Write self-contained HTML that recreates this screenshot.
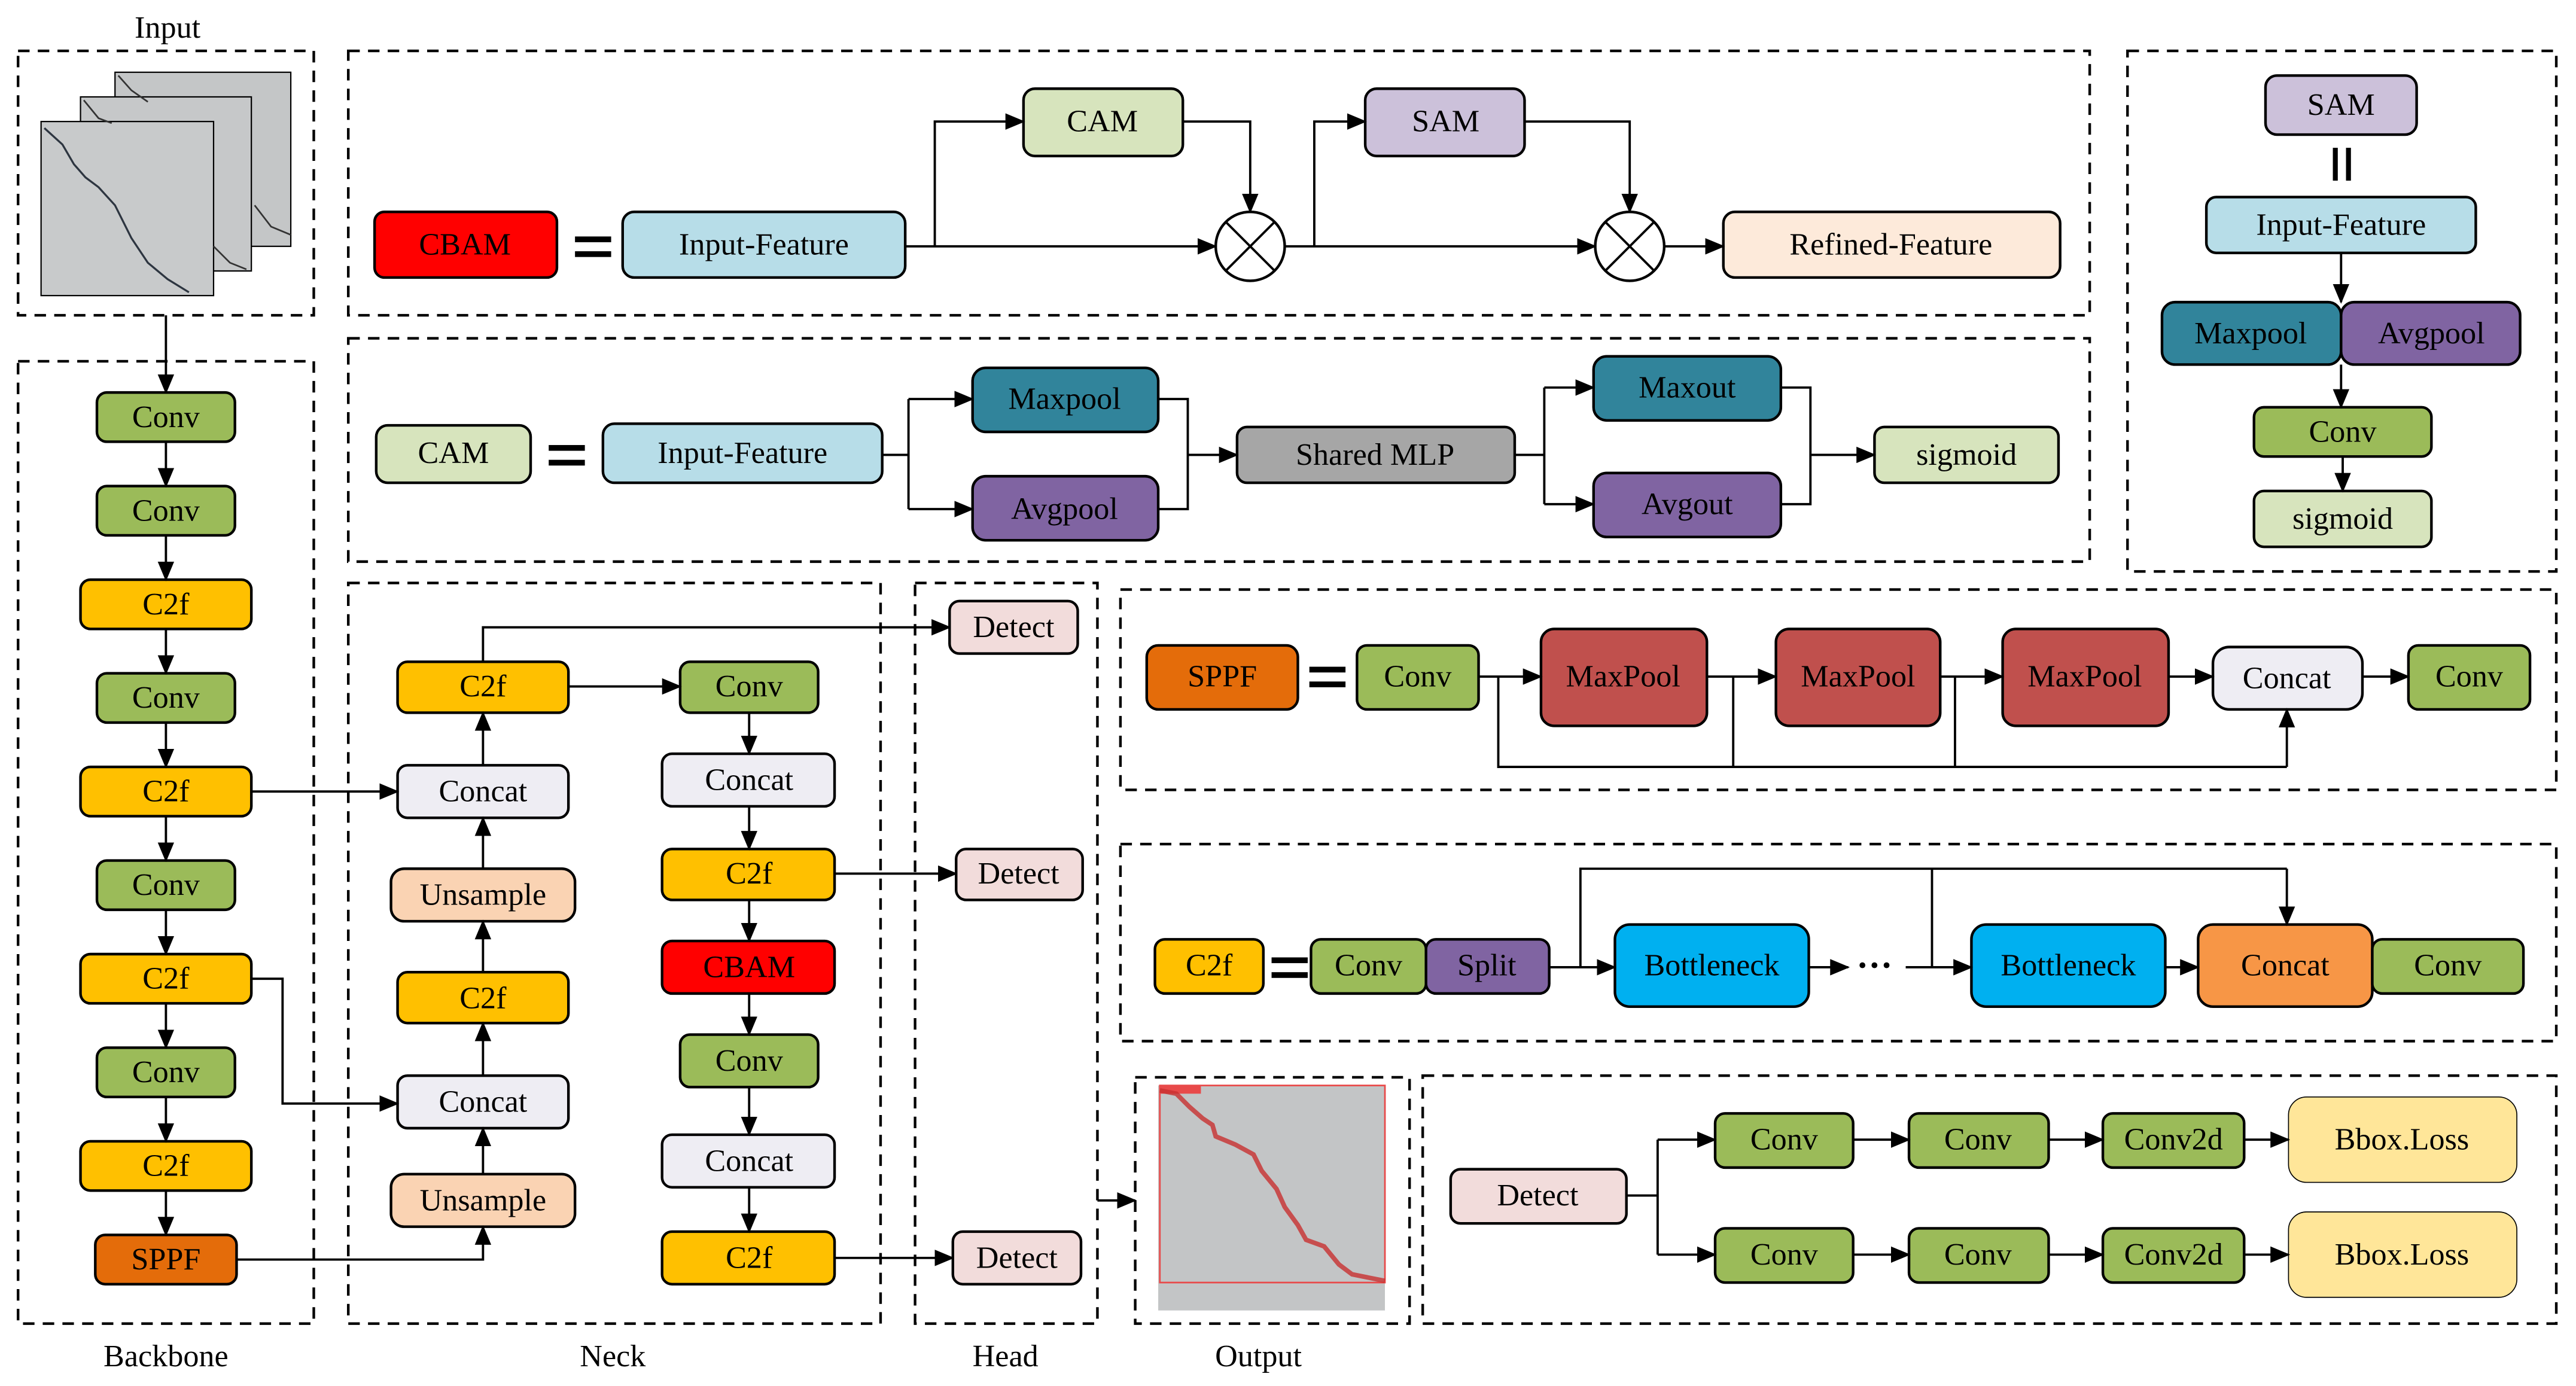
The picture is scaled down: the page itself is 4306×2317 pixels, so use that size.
<!DOCTYPE html>
<html><head><meta charset="utf-8"><style>
html,body{margin:0;padding:0;background:#fff;width:4306px;height:2317px;overflow:hidden}
svg{display:block}
text{font-family:"Liberation Serif",serif;font-size:19px;fill:#000;text-anchor:middle;dominant-baseline:central}
.n{stroke:#000;stroke-width:1.6}
.d{fill:none;stroke:#000;stroke-width:1.6;stroke-dasharray:7,5}
.l{fill:none;stroke:#000;stroke-width:1.4}
</style></head><body>
<svg width="4306" height="2317" viewBox="0 0 1568 844" preserveAspectRatio="none" xmlns="http://www.w3.org/2000/svg">
<defs>
<marker id="a" markerUnits="userSpaceOnUse" markerWidth="12" markerHeight="10" refX="11" refY="5" orient="auto"><path d="M0,0 L12,5 L0,10 z" fill="#000"/></marker>
</defs>
<rect width="1568" height="844" fill="#fff"/>

<!-- dashed containers -->
<rect class="d" x="11" y="31" width="180" height="161"/>
<rect class="d" x="11" y="220" width="180" height="586"/>
<rect class="d" x="212" y="355" width="324" height="451"/>
<rect class="d" x="557" y="355" width="111" height="451"/>
<rect class="d" x="691" y="656" width="167" height="150"/>
<rect class="d" x="212" y="31" width="1060" height="161"/>
<rect class="d" x="212" y="206" width="1060" height="136"/>
<rect class="d" x="1295" y="31" width="261" height="317"/>
<rect class="d" x="682" y="359" width="874" height="122"/>
<rect class="d" x="682" y="514" width="874" height="120"/>
<rect class="d" x="866" y="655" width="690" height="151"/>

<text x="102" y="17">Input</text>
<text x="101" y="826">Backbone</text>
<text x="373" y="826">Neck</text>
<text x="612" y="826">Head</text>
<text x="766" y="826">Output</text>

<!-- input images -->
<g stroke="#000" stroke-width="0.8">
<rect x="70" y="44" width="107" height="106" fill="#c4c6c7"/>
<rect x="49" y="59" width="104" height="106" fill="#c6c8c9"/>
<rect x="25" y="74" width="105" height="106" fill="#c8cacb"/>
</g>
<polyline points="72,46 80,55 90,62" fill="none" stroke="#333" stroke-width="1"/>
<polyline points="155,125 165,138 177,143" fill="none" stroke="#333" stroke-width="1"/>
<polyline points="51,61 60,72 68,75" fill="none" stroke="#333" stroke-width="1"/>
<polyline points="130,150 140,160 150,164" fill="none" stroke="#333" stroke-width="1"/>
<polyline points="27,78 38,88 45,100 52,108 60,114 70,125 80,145 90,160 102,170 115,178" fill="none" stroke="#2d3540" stroke-width="1.2"/>
<line class="l" x1="101" y1="192" x2="101" y2="239" marker-end="url(#a)"/>

<!-- backbone -->
<g class="n">
<rect x="59" y="239" width="84" height="30" rx="6" fill="#9BBB59"/>
<rect x="59" y="296" width="84" height="30" rx="6" fill="#9BBB59"/>
<rect x="49" y="353" width="104" height="30" rx="6" fill="#FFC000"/>
<rect x="59" y="410" width="84" height="30" rx="6" fill="#9BBB59"/>
<rect x="49" y="467" width="104" height="30" rx="6" fill="#FFC000"/>
<rect x="59" y="524" width="84" height="30" rx="6" fill="#9BBB59"/>
<rect x="49" y="581" width="104" height="30" rx="6" fill="#FFC000"/>
<rect x="59" y="638" width="84" height="30" rx="6" fill="#9BBB59"/>
<rect x="49" y="695" width="104" height="30" rx="6" fill="#FFC000"/>
<rect x="58" y="752" width="86" height="30" rx="6" fill="#E46C0A"/>
</g>
<text x="101" y="254">Conv</text><text x="101" y="311">Conv</text><text x="101" y="368">C2f</text>
<text x="101" y="425">Conv</text><text x="101" y="482">C2f</text><text x="101" y="539">Conv</text>
<text x="101" y="596">C2f</text><text x="101" y="653">Conv</text><text x="101" y="710">C2f</text>
<text x="101" y="767">SPPF</text>
<g class="l" marker-end="url(#a)">
<line x1="101" y1="269" x2="101" y2="296"/><line x1="101" y1="326" x2="101" y2="353"/>
<line x1="101" y1="383" x2="101" y2="410"/><line x1="101" y1="440" x2="101" y2="467"/>
<line x1="101" y1="497" x2="101" y2="524"/><line x1="101" y1="554" x2="101" y2="581"/>
<line x1="101" y1="611" x2="101" y2="638"/><line x1="101" y1="668" x2="101" y2="695"/>
<line x1="101" y1="725" x2="101" y2="752"/>
</g>

<!-- neck -->
<g class="n">
<rect x="242" y="403" width="104" height="31" rx="6" fill="#FFC000"/>
<rect x="242" y="466" width="104" height="32" rx="6" fill="#EEEDF3"/>
<rect x="238" y="529" width="112" height="32" rx="8" fill="#FAD3B3"/>
<rect x="242" y="592" width="104" height="31" rx="6" fill="#FFC000"/>
<rect x="242" y="655" width="104" height="32" rx="6" fill="#EEEDF3"/>
<rect x="238" y="715" width="112" height="32" rx="8" fill="#FAD3B3"/>
<rect x="414" y="403" width="84" height="31" rx="6" fill="#9BBB59"/>
<rect x="403" y="459" width="105" height="32" rx="6" fill="#EEEDF3"/>
<rect x="403" y="517" width="105" height="31" rx="6" fill="#FFC000"/>
<rect x="403" y="573" width="105" height="32" rx="6" fill="#FF0000"/>
<rect x="414" y="630" width="84" height="32" rx="6" fill="#9BBB59"/>
<rect x="403" y="691" width="105" height="32" rx="6" fill="#EEEDF3"/>
<rect x="403" y="750" width="105" height="32" rx="6" fill="#FFC000"/>
</g>
<text x="294" y="418">C2f</text><text x="294" y="482">Concat</text><text x="294" y="545">Unsample</text>
<text x="294" y="608">C2f</text><text x="294" y="671">Concat</text><text x="294" y="731">Unsample</text>
<text x="456" y="418">Conv</text><text x="456" y="475">Concat</text><text x="456" y="532">C2f</text>
<text x="456" y="589">CBAM</text><text x="456" y="646">Conv</text><text x="456" y="707">Concat</text>
<text x="456" y="766">C2f</text>
<g class="l" marker-end="url(#a)">
<line x1="294" y1="715" x2="294" y2="687"/><line x1="294" y1="655" x2="294" y2="623"/>
<line x1="294" y1="592" x2="294" y2="561"/><line x1="294" y1="529" x2="294" y2="498"/>
<line x1="294" y1="466" x2="294" y2="434"/>
<line x1="153" y1="482" x2="242" y2="482"/>
<polyline points="153,596 172,596 172,672 242,672"/>
<polyline points="144,767 294,767 294,747"/>
<line x1="346" y1="418" x2="414" y2="418"/>
<polyline points="294,403 294,382 578,382"/>
<line x1="456" y1="434" x2="456" y2="459"/><line x1="456" y1="491" x2="456" y2="517"/>
<line x1="456" y1="548" x2="456" y2="573"/><line x1="456" y1="605" x2="456" y2="630"/>
<line x1="456" y1="662" x2="456" y2="691"/><line x1="456" y1="723" x2="456" y2="750"/>
<line x1="508" y1="532" x2="582" y2="532"/>
<line x1="508" y1="766" x2="580" y2="766"/>
<line x1="668" y1="731" x2="691" y2="731"/>
</g>

<!-- head -->
<g class="n" fill="#F2DCDB">
<rect x="578" y="366" width="78" height="32" rx="6"/>
<rect x="582" y="517" width="77" height="31" rx="6"/>
<rect x="580" y="750" width="78" height="32" rx="6"/>
</g>
<text x="617" y="382">Detect</text><text x="620" y="532">Detect</text><text x="619" y="766">Detect</text>

<!-- output -->
<rect x="705" y="661" width="138" height="137" fill="#c3c5c6"/>
<rect x="706" y="661" width="137" height="120" fill="none" stroke="#e84a4a" stroke-width="1"/>
<rect x="706" y="661" width="25" height="5" fill="#e84a4a"/>
<polyline points="706,664 716,666 724,674 732,681 738,685 740,692 752,697 763,703 768,713 777,724 782,735 790,746 795,755 806,759 815,770 823,776 843,780" fill="none" stroke="#c83030" stroke-width="2.8" stroke-opacity="0.8"/>

<!-- CBAM -->
<g class="n">
<rect x="228" y="129" width="111" height="40" rx="6" fill="#FF0000"/>
<rect x="379" y="129" width="172" height="40" rx="7" fill="#B7DDE8"/>
<rect x="623" y="54" width="97" height="41" rx="7" fill="#D7E4BD"/>
<rect x="831" y="54" width="97" height="41" rx="7" fill="#CCC1DA"/>
<rect x="1049" y="129" width="205" height="40" rx="7" fill="#FDEADA"/>
<circle cx="761" cy="150" r="21" fill="#fff"/>
<circle cx="992" cy="150" r="21" fill="#fff"/>
</g>
<g stroke="#000" stroke-width="1.4">
<line x1="746" y1="135" x2="776" y2="165"/><line x1="776" y1="135" x2="746" y2="165"/>
<line x1="977" y1="135" x2="1007" y2="165"/><line x1="1007" y1="135" x2="977" y2="165"/>
</g>
<g fill="#000"><rect x="350" y="144" width="22" height="3.5"/><rect x="350" y="153" width="22" height="3.5"/></g>
<text x="283" y="149">CBAM</text><text x="465" y="149">Input-Feature</text>
<text x="671" y="74">CAM</text><text x="880" y="74">SAM</text><text x="1151" y="149">Refined-Feature</text>
<g class="l" marker-end="url(#a)">
<line x1="551" y1="150" x2="740" y2="150"/>
<polyline points="569,150 569,74 623,74"/>
<polyline points="720,74 761,74 761,129"/>
<line x1="782" y1="150" x2="971" y2="150"/>
<polyline points="800,150 800,74 831,74"/>
<polyline points="928,74 992,74 992,129"/>
<line x1="1013" y1="150" x2="1049" y2="150"/>
</g>

<!-- CAM -->
<g class="n">
<rect x="229" y="259" width="94" height="35" rx="7" fill="#D7E4BD"/>
<rect x="367" y="258" width="170" height="36" rx="7" fill="#B7DDE8"/>
<rect x="592" y="224" width="113" height="39" rx="8" fill="#31849B"/>
<rect x="592" y="290" width="113" height="39" rx="8" fill="#8064A2"/>
<rect x="753" y="260" width="169" height="34" rx="6" fill="#A6A6A6"/>
<rect x="970" y="217" width="114" height="39" rx="8" fill="#31849B"/>
<rect x="970" y="288" width="114" height="39" rx="8" fill="#8064A2"/>
<rect x="1141" y="260" width="112" height="34" rx="6" fill="#D7E4BD"/>
</g>
<g fill="#000"><rect x="334" y="271" width="22" height="3.5"/><rect x="334" y="280" width="22" height="3.5"/></g>
<text x="276" y="276">CAM</text><text x="452" y="276">Input-Feature</text>
<text x="648" y="243">Maxpool</text><text x="648" y="310">Avgpool</text>
<text x="837" y="277">Shared MLP</text><text x="1027" y="236">Maxout</text>
<text x="1027" y="307">Avgout</text><text x="1197" y="277">sigmoid</text>
<polyline class="l" points="537,277 553,277"/><line class="l" x1="553" y1="243" x2="553" y2="310"/>
<polyline class="l" points="705,243 723,243 723,310 705,310"/>
<polyline class="l" points="922,277 940,277"/><line class="l" x1="940" y1="236" x2="940" y2="307"/>
<polyline class="l" points="1084,236 1102,236 1102,307 1084,307"/>
<g class="l" marker-end="url(#a)">
<line x1="553" y1="243" x2="592" y2="243"/><line x1="553" y1="310" x2="592" y2="310"/>
<line x1="723" y1="277" x2="753" y2="277"/>
<line x1="940" y1="236" x2="970" y2="236"/><line x1="940" y1="307" x2="970" y2="307"/>
<line x1="1102" y1="277" x2="1141" y2="277"/>
</g>

<!-- SAM -->
<g class="n">
<rect x="1379" y="46" width="92" height="36" rx="7" fill="#CCC1DA"/>
<rect x="1343" y="120" width="164" height="34" rx="6" fill="#B7DDE8"/>
<rect x="1316" y="184" width="109" height="38" rx="8" fill="#31849B"/>
<rect x="1425" y="184" width="109" height="38" rx="8" fill="#8064A2"/>
<rect x="1372" y="248" width="108" height="30" rx="6" fill="#9BBB59"/>
<rect x="1372" y="299" width="108" height="34" rx="6" fill="#D7E4BD"/>
</g>
<g fill="#000"><rect x="1420" y="90" width="3" height="20"/><rect x="1428" y="90" width="3" height="20"/></g>
<text x="1425" y="64">SAM</text><text x="1425" y="137">Input-Feature</text>
<text x="1370" y="203">Maxpool</text><text x="1480" y="203">Avgpool</text>
<text x="1426" y="263">Conv</text><text x="1426" y="316">sigmoid</text>
<g class="l" marker-end="url(#a)">
<line x1="1425" y1="154" x2="1425" y2="184"/><line x1="1425" y1="222" x2="1425" y2="248"/>
<line x1="1426" y1="278" x2="1426" y2="299"/>
</g>

<!-- SPPF -->
<g class="n">
<rect x="698" y="393" width="92" height="39" rx="7" fill="#E46C0A"/>
<rect x="826" y="393" width="74" height="39" rx="6" fill="#9BBB59"/>
<rect x="938" y="383" width="101" height="59" rx="8" fill="#C0504D"/>
<rect x="1081" y="383" width="100" height="59" rx="8" fill="#C0504D"/>
<rect x="1219" y="383" width="101" height="59" rx="8" fill="#C0504D"/>
<rect x="1347" y="394" width="91" height="38" rx="10" fill="#EEEDF3"/>
<rect x="1466" y="393" width="74" height="39" rx="6" fill="#9BBB59"/>
</g>
<g fill="#000"><rect x="797" y="406" width="22" height="3.5"/><rect x="797" y="415" width="22" height="3.5"/></g>
<text x="744" y="412">SPPF</text><text x="863" y="412">Conv</text>
<text x="988" y="412">MaxPool</text><text x="1131" y="412">MaxPool</text><text x="1269" y="412">MaxPool</text>
<text x="1392" y="413">Concat</text><text x="1503" y="412">Conv</text>
<polyline class="l" points="912,412 912,467 1392,467"/>
<line class="l" x1="1055" y1="412" x2="1055" y2="467"/><line class="l" x1="1190" y1="412" x2="1190" y2="467"/>
<g class="l" marker-end="url(#a)">
<line x1="900" y1="412" x2="938" y2="412"/><line x1="1039" y1="412" x2="1081" y2="412"/>
<line x1="1181" y1="412" x2="1219" y2="412"/><line x1="1320" y1="412" x2="1347" y2="412"/>
<line x1="1438" y1="412" x2="1466" y2="412"/>
<line x1="1392" y1="467" x2="1392" y2="432"/>
</g>

<!-- C2f -->
<g class="n">
<rect x="703" y="572" width="66" height="33" rx="6" fill="#FFC000"/>
<rect x="798" y="572" width="70" height="33" rx="6" fill="#9BBB59"/>
<rect x="868" y="572" width="75" height="33" rx="6" fill="#8064A2"/>
<rect x="983" y="563" width="118" height="50" rx="9" fill="#00B0F0"/>
<rect x="1200" y="563" width="118" height="50" rx="9" fill="#00B0F0"/>
<rect x="1338" y="563" width="106" height="50" rx="9" fill="#F79646"/>
<rect x="1444" y="572" width="92" height="33" rx="6" fill="#9BBB59"/>
</g>
<g fill="#000"><rect x="774" y="583" width="22" height="3.5"/><rect x="774" y="592" width="22" height="3.5"/></g>
<text x="736" y="588">C2f</text><text x="833" y="588">Conv</text><text x="905" y="588">Split</text>
<text x="1042" y="588">Bottleneck</text><text x="1259" y="588">Bottleneck</text>
<text x="1391" y="588">Concat</text><text x="1490" y="588">Conv</text>
<text x="1141" y="588" style="font-size:22px;font-weight:bold">···</text>
<polyline class="l" points="962,589 962,529 1392,529"/>
<line class="l" x1="1176" y1="529" x2="1176" y2="589"/>
<g class="l" marker-end="url(#a)">
<line x1="943" y1="589" x2="983" y2="589"/>
<line x1="1101" y1="589" x2="1125" y2="589"/>
<line x1="1160" y1="589" x2="1200" y2="589"/>
<line x1="1318" y1="589" x2="1338" y2="589"/>
<line x1="1392" y1="529" x2="1392" y2="563"/>
</g>

<!-- Detect -->
<g class="n">
<rect x="883" y="712" width="107" height="33" rx="6" fill="#F2DCDB"/>
<rect x="1044" y="678" width="84" height="33" rx="6" fill="#9BBB59"/>
<rect x="1162" y="678" width="85" height="33" rx="6" fill="#9BBB59"/>
<rect x="1280" y="678" width="86" height="33" rx="6" fill="#9BBB59"/>
<rect x="1393" y="668" width="139" height="52" rx="11" fill="#FFE699" stroke-width="0.6"/>
<rect x="1044" y="748" width="84" height="33" rx="6" fill="#9BBB59"/>
<rect x="1162" y="748" width="85" height="33" rx="6" fill="#9BBB59"/>
<rect x="1280" y="748" width="86" height="33" rx="6" fill="#9BBB59"/>
<rect x="1393" y="738" width="139" height="52" rx="11" fill="#FFE699" stroke-width="0.6"/>
</g>
<text x="936" y="728">Detect</text>
<text x="1086" y="694">Conv</text><text x="1204" y="694">Conv</text><text x="1323" y="694">Conv2d</text><text x="1462" y="694">Bbox.Loss</text>
<text x="1086" y="764">Conv</text><text x="1204" y="764">Conv</text><text x="1323" y="764">Conv2d</text><text x="1462" y="764">Bbox.Loss</text>
<polyline class="l" points="990,728 1009,728"/><line class="l" x1="1009" y1="694" x2="1009" y2="764"/>
<g class="l" marker-end="url(#a)">
<line x1="1009" y1="694" x2="1044" y2="694"/><line x1="1128" y1="694" x2="1162" y2="694"/>
<line x1="1247" y1="694" x2="1280" y2="694"/><line x1="1366" y1="694" x2="1393" y2="694"/>
<line x1="1009" y1="764" x2="1044" y2="764"/><line x1="1128" y1="764" x2="1162" y2="764"/>
<line x1="1247" y1="764" x2="1280" y2="764"/><line x1="1366" y1="764" x2="1393" y2="764"/>
</g>
</svg>
</body></html>
